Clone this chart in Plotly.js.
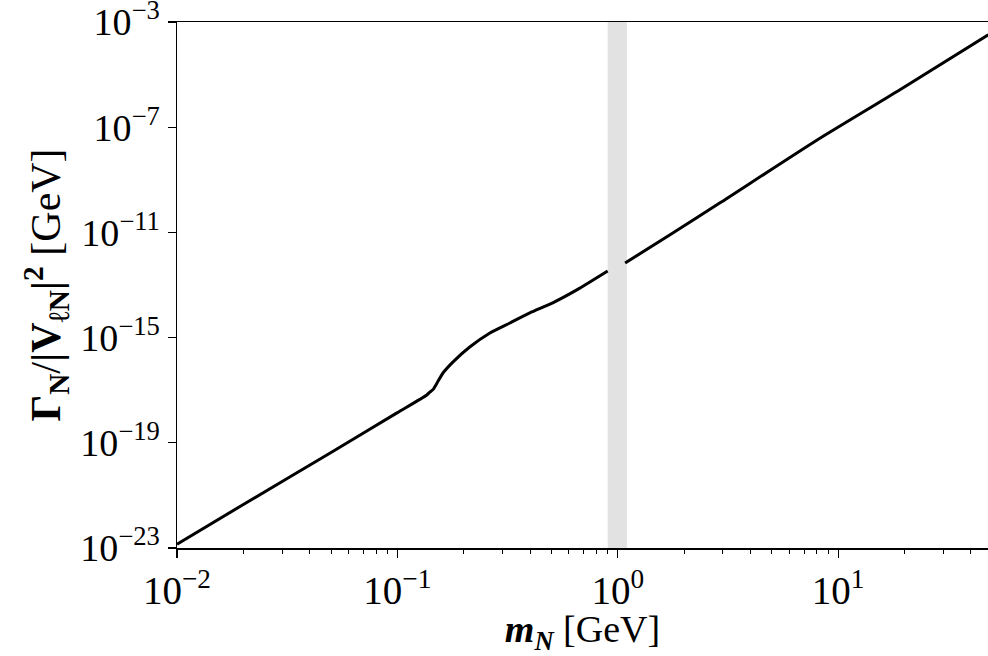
<!DOCTYPE html>
<html>
<head>
<meta charset="utf-8">
<script src="https://cdn.plot.ly/plotly-3.0.1.min.js"></script>
<style>html,body{margin:0;padding:0;background:#fff;}#chart{width:988px;height:656px;}</style>
</head>
<body>
<div id="chart"></div>
<script>
// Heavy neutral lepton mass [GeV]
const massGeV = [0.01, 0.02, 0.05, 0.1, 0.136, 0.14, 0.145, 0.152, 0.161, 0.179, 0.213, 0.263, 0.324, 0.399, 0.507, 0.652, 0.90,
                 null,
                 1.08, 1.72, 2.90, 8.0, 19.0, 48.0];
// Gamma_N / |V_lN|^2 [GeV]
const widthGeV = [1.4e-23, 4.5e-22, 4.3e-20, 1.4e-18, 6.6e-18, 8.3e-18, 1.05e-17, 2.0e-17, 4.5e-17, 1.2e-16, 4.4e-16, 1.5e-15, 3.6e-15, 8.7e-15, 2.1e-14, 6.5e-14, 3.4e-13,
                  null,
                  6.9e-13, 7.9e-12, 1.3e-10, 3.2e-8, 2.6e-6, 3.3e-4];
// Excluded (shaded) mass window [GeV]
const bandRange = [0.9, 1.1];
// Axis tick labels
const xTickVals = [0.01, 0.1, 1, 10];
const xTickText = ['10<sup>−2</sup>', '10<sup>−1</sup>', '10<sup>0</sup>', '10<sup>1</sup>'];
const yTickVals = [1e-3, 1e-7, 1e-11, 1e-15, 1e-19, 1e-23];
const yTickText = ['10<sup>−3</sup>', '10<sup>−7</sup>', '10<sup>−11</sup>', '10<sup>−15</sup>', '10<sup>−19</sup>', '10<sup>−23</sup>'];

const xMinor = [];
for (const d of [0.01, 0.1, 1, 10]) for (let k = 2; k <= 9; k++) xMinor.push(d * k);

const serif = 'Liberation Serif, DejaVu Serif, serif';

const trace = {
  x: massGeV, y: widthGeV, type: 'scatter', mode: 'lines',
  line: {color: '#000', width: 3, shape: 'spline', smoothing: 0.6}, connectgaps: false, hoverinfo: 'skip'
};

const layout = {
  width: 988, height: 656,
  margin: {l: 177, r: 0, t: 22, b: 108},
  paper_bgcolor: '#fff', plot_bgcolor: '#fff',
  showlegend: false,
  font: {family: serif, color: '#000', size: 34},
  xaxis: {
    type: 'log', range: [-2, 1.68],
    tickmode: 'array', tickvals: xTickVals, ticktext: xTickText,
    ticks: 'outside', ticklen: 8, tickwidth: 1.2, tickcolor: '#000',
    minor: {tickmode: 'array', tickvals: xMinor, ticks: 'outside', ticklen: 4, tickwidth: 1, tickcolor: '#000', showgrid: false},
    showline: true, linecolor: '#000', linewidth: 1.5, mirror: true,
    showgrid: false, zeroline: false,
    tickfont: {family: serif, size: 39, color: '#000'},
    ticklabeloverflow: 'allow',
    automargin: false,
    title: {text: '<b><i>m<sub>N</sub></i></b> [GeV]', font: {family: serif, size: 38, color: '#000'}, standoff: 6}
  },
  yaxis: {
    type: 'log', range: [-23.001, -2.999],
    tickmode: 'array', tickvals: yTickVals, ticktext: yTickText,
    ticks: 'outside', ticklen: 8, tickwidth: 1.2, tickcolor: '#000',
    showline: true, linecolor: '#000', linewidth: 1.5, mirror: false,
    showgrid: false, zeroline: false,
    tickfont: {family: serif, size: 38, color: '#000'},
    ticklabeloverflow: 'allow',
    automargin: false,
    title: {text: '<b>Γ<sub>N</sub></b>/<b>|V<sub>ℓN</sub>|<sup>2</sup></b> [GeV]', font: {family: serif, size: 42, color: '#000'}, standoff: 6}
  },
  shapes: [{
    type: 'rect', xref: 'x', yref: 'paper', layer: 'below',
    x0: bandRange[0], x1: bandRange[1], y0: 0, y1: 1,
    fillcolor: '#e2e2e2', line: {width: 0}
  }]
};

Plotly.newPlot('chart', [trace], layout, {staticPlot: true, displayModeBar: false});
</script>
</body>
</html>
